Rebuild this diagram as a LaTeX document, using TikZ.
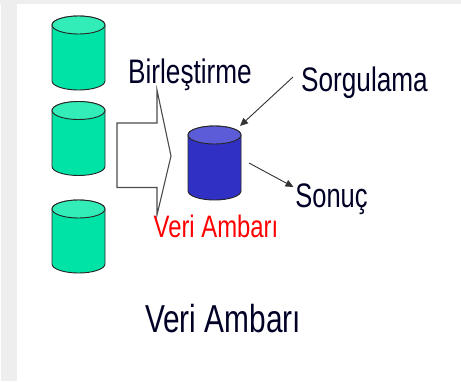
\documentclass[tikz,border=0pt]{standalone}
\usepackage{fontspec}
\setmainfont{Liberation Sans}
\usetikzlibrary{arrows.meta}
\definecolor{dbgreen}{HTML}{00E3A6}
\definecolor{dbgreentop}{HTML}{33EDB8}
\definecolor{dbblue}{HTML}{3030C4}
\definecolor{dbbluetop}{HTML}{5C5CD8}
\definecolor{edgegray}{HTML}{EEEEEE}
\tikzset{
  x=1pt,y=-1pt,
  dbline/.style={draw=black!85,line width=0.9pt},
  dbanchor/.style={inner sep=0pt,outer sep=0pt,minimum width=53pt,minimum height=74pt},
  lbl/.style={inner sep=0pt,outer sep=0pt,anchor=base,text=black!85!blue},
  conn/.style={draw=black!80,line width=0.9pt,-{Triangle[length=8pt,width=7pt]}},
}
% name, centre x, top-ellipse centre y, bottom-ellipse centre y, body colour, top colour
\newcommand{\dbcyl}[6]{%
  \filldraw[dbline,fill=#5] (#2-26.5,#3) -- (#2-26.5,#4)
    arc[start angle=180,end angle=360,x radius=26.5pt,y radius=9pt]
    -- (#2+26.5,#3)
    arc[start angle=0,end angle=180,x radius=26.5pt,y radius=9pt] -- cycle;
  \filldraw[dbline,fill=#6] (#2,#3) ellipse[x radius=26.5pt,y radius=9pt];
  \node[dbanchor] (#1) at (#2,{(#3+#4)/2}) {};
}
\begin{document}
\begin{tikzpicture}
\useasboundingbox (0,0) rectangle (461,381);
\fill[white] (0,0) rectangle (461,381);
\fill[edgegray] (0,0) rectangle (461,4);
\fill[edgegray] (1,0) rectangle (17,381);
\dbcyl{a}{78.5}{25}{81}{dbgreen}{dbgreentop}
\dbcyl{b}{78.5}{110.5}{166.5}{dbgreen}{dbgreentop}
\dbcyl{c}{78.5}{209}{264}{dbgreen}{dbgreentop}
\dbcyl{dw}{214.5}{135}{191}{dbblue}{dbbluetop}
\draw[draw=black!70,line width=1.1pt,fill=white] (157,123) -- (157,90) -- (171,156) -- (157,215) -- (157,187.5) -- (117,187.5) -- (117,123) -- cycle;
\node[lbl,font=\fontsize{34}{34}\selectfont,xscale=0.77] (birl) at (190,83) {Birleştirme};
\node[lbl,font=\fontsize{34}{34}\selectfont,xscale=0.77] (sorg) at (364.5,91) {Sorgulama};
\node[lbl,font=\fontsize{34}{34}\selectfont,xscale=0.75] (sonuc) at (331.5,207) {Sonuç};
\node[lbl,text=red,font=\fontsize{31}{31}\selectfont,xscale=0.77] (veri) at (216,237) {Veri Ambarı};
\node[lbl,font=\fontsize{39}{39}\selectfont,xscale=0.765] (title) at (223,332) {Veri Ambarı};
\draw[conn] ([shift={(-71.5,-14)}]sorg.base) -- ([shift={(25.5,-37)}]dw.center);
\draw[conn] ([shift={(34.5,0)}]dw.center) -- ([shift={(-38,-20)}]sonuc.base);
\end{tikzpicture}
\end{document}
